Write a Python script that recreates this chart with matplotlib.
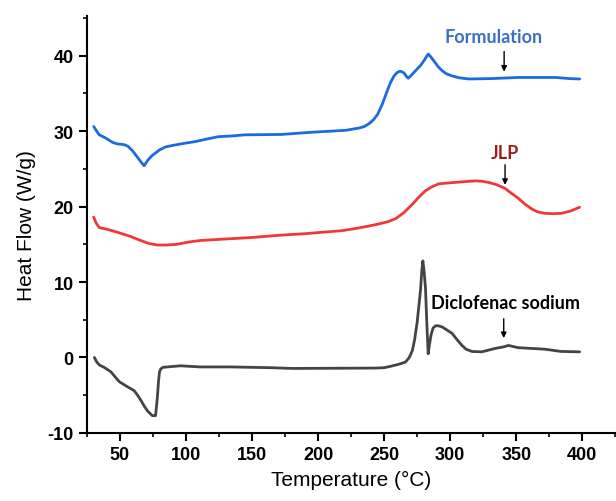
import matplotlib
matplotlib.use("Agg")
import matplotlib.pyplot as plt
from matplotlib.ticker import MultipleLocator

# Formulation (blue)
form_T = [30.2, 32, 34.4, 39, 44.5, 48, 53.2, 56, 59.5, 63, 66, 68.3, 71, 74, 77, 80, 84.6,
          90, 99.6, 107, 114.7, 124.4, 135, 144.7, 172, 196, 221, 231, 235, 238.7, 242, 245,
          248.7, 252.5, 255, 257.5, 259.5, 261.3, 263, 265, 267, 268.3, 270, 273.8, 277.6,
          280, 283.3, 285, 288.9, 291, 293.9, 297, 301.4, 307, 314, 331, 351.5, 380, 390, 398]
form_Y = [30.6, 30.1, 29.5, 29.1, 28.5, 28.3, 28.2, 28.0, 27.4, 26.6, 25.9, 25.4, 26.1,
          26.7, 27.1, 27.5, 27.9, 28.1, 28.4, 28.6, 28.9, 29.25, 29.35, 29.5, 29.55, 29.85,
          30.1, 30.4, 30.6, 31.0, 31.5, 32.2, 33.6, 35.4, 36.5, 37.3, 37.7, 37.9, 37.9, 37.7,
          37.2, 37.0, 37.3, 38.0, 38.7, 39.3, 40.2, 39.9, 39.0, 38.5, 38.0, 37.6, 37.3, 37.05,
          36.9, 36.95, 37.1, 37.1, 36.95, 36.9]

# JLP (red)
jlp_T = [30.2, 32, 34.5, 40, 48, 57, 65.8, 72, 78.3, 85, 93.4, 102, 110.9, 130, 150, 171,
         190, 203.6, 218, 228.7, 238, 246.2, 253, 258.8, 265, 271.3, 276, 281.3, 286, 291.3,
         297, 303.9, 311, 318.9, 324, 328.9, 335, 341.5, 346, 351.5, 356, 361.5, 366, 371.6,
         378, 384, 391, 397.9]
jlp_Y = [18.6, 17.8, 17.2, 17.0, 16.6, 16.1, 15.5, 15.1, 14.9, 14.9, 15.0, 15.3, 15.5, 15.7,
         15.9, 16.2, 16.4, 16.6, 16.8, 17.1, 17.4, 17.7, 18.0, 18.4, 19.2, 20.3, 21.2, 22.1,
         22.6, 23.0, 23.1, 23.2, 23.3, 23.4, 23.35, 23.2, 22.9, 22.4, 21.8, 21.1, 20.4, 19.7,
         19.3, 19.1, 19.05, 19.1, 19.4, 19.9]

# Diclofenac sodium (black)
dic_T = [30.7, 32.5, 34.5, 38, 43.2, 49.5, 55, 58, 60.8, 63, 66, 68.3, 71, 74.5, 77, 78.3,
         79.3, 80, 81, 82.6, 95.8, 110.9, 133.4, 163.5, 181, 243.7, 250, 254, 258.7, 262,
         266.2, 269, 271.3, 273, 275, 276.5, 277.6, 278.5, 279.3, 280.3, 281.3, 282.3, 283.3,
         284.2, 285.5, 287, 288.9, 291, 293.9, 297, 301.4, 305, 308.9, 312, 316.4, 323.9,
         334, 340.2, 344, 351.5, 371.5, 384, 397.9]
dic_Y = [0.0, -0.6, -1.0, -1.3, -1.9, -3.2, -3.8, -4.1, -4.4, -4.9, -5.7, -6.4, -7.1, -7.7,
         -7.7, -5.4, -3.0, -1.9, -1.5, -1.3, -1.1, -1.25, -1.25, -1.35, -1.45, -1.4, -1.35,
         -1.2, -1.0, -0.85, -0.6, 0.0, 0.9, 2.3, 4.7, 7.2, 9.1, 11.5, 12.8, 11.3, 9.1, 4.5,
         0.5, 1.6, 3.0, 3.9, 4.2, 4.2, 4.05, 3.7, 3.2, 2.4, 1.6, 1.1, 0.8, 0.75, 1.2, 1.4,
         1.6, 1.3, 1.1, 0.8, 0.75]

x_ticks = [50, 100, 150, 200, 250, 300, 350, 400]
y_ticks = [-10, 0, 10, 20, 30, 40]

plt.rcParams['font.family'] = ['Liberation Sans', 'DejaVu Sans']
plt.rcParams['axes.unicode_minus'] = False

fig = plt.figure(figsize=(6.16, 5.02), dpi=100)
ax = fig.add_axes([0.141, 0.1355, 0.858, 0.83])

kw = dict(lw=2.0, solid_joinstyle='round', solid_capstyle='round')
ax.plot(form_T, form_Y, color='#1a6be0', **kw)
ax.plot(jlp_T, jlp_Y, color='#f0383a', **kw)
ax.plot(dic_T, dic_Y, color='#444444', **kw)

ax.set_xlim(25, 425)
ax.set_ylim(-10, 45.2)
ax.set_xticks(x_ticks)
ax.set_yticks(y_ticks)
ax.xaxis.set_minor_locator(MultipleLocator(25))
ax.yaxis.set_minor_locator(MultipleLocator(5))
ax.tick_params(which='major', direction='out', length=5.5, width=1.5, labelsize=13, pad=4)
ax.tick_params(which='minor', direction='out', length=3, width=1.2)
for lab in ax.get_xticklabels() + ax.get_yticklabels():
    lab.set_fontweight('bold')

for s in ['top', 'right']:
    ax.spines[s].set_visible(False)
for s in ['left', 'bottom']:
    ax.spines[s].set_linewidth(1.5)

ax.set_xlabel('Temperature (°C)', fontsize=15, labelpad=5)
ax.set_ylabel('Heat Flow (W/g)', fontsize=15, labelpad=8)

afont = ['Lato', 'DejaVu Sans']
ax.text(333, 42.5, 'Formulation', color='#3a6fc8', fontsize=13, fontweight='bold',
        family=afont, ha='center', va='center')
ax.annotate('', xy=(340.8, 37.5), xytext=(340.8, 40.9),
            arrowprops=dict(arrowstyle='-|>', color='black', lw=1, mutation_scale=8))
ax.text(341.5, 27.2, 'JLP', color='#a01c1c', fontsize=13, fontweight='bold',
        family=afont, ha='center', va='center')
ax.annotate('', xy=(341.5, 22.5), xytext=(341.5, 25.9),
            arrowprops=dict(arrowstyle='-|>', color='black', lw=1, mutation_scale=8))
ax.text(341.5, 7.35, 'Diclofenac sodium', color='black', fontsize=13, fontweight='bold',
        family=afont, ha='center', va='center')
ax.annotate('', xy=(340.5, 2.2), xytext=(340.5, 5.5),
            arrowprops=dict(arrowstyle='-|>', color='black', lw=1, mutation_scale=8))

fig.savefig('out.png', dpi=100)
